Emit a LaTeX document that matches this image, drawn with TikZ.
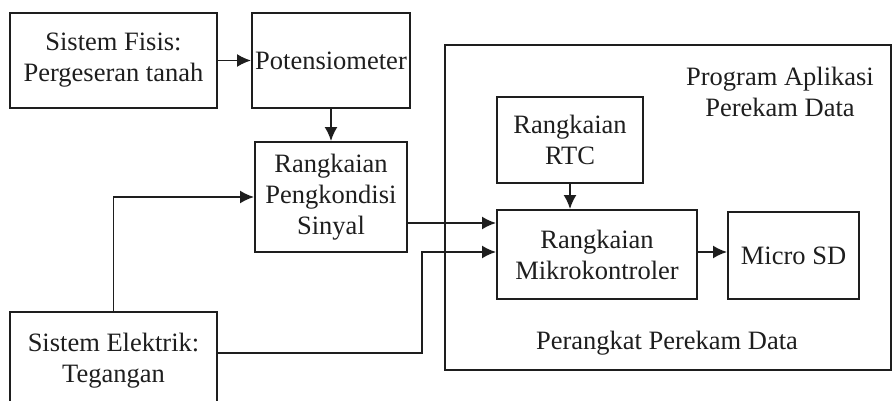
\documentclass[tikz,border=0pt]{standalone}
\usepackage{fontspec}
\setmainfont{Liberation Serif}
\usetikzlibrary{arrows.meta}
\definecolor{ink}{HTML}{1E1E1E}
\begin{document}
\begin{tikzpicture}[x=1pt,y=-1pt,
  every node/.style={font=\fontsize{26.5}{31}\selectfont, text=ink},
  blok/.style={draw=ink, line width=1.9pt, inner sep=0pt, align=center},
  arr/.style={draw=ink, line width=1.9pt, -{Latex[length=14pt,width=13pt]}},
  wire/.style={draw=ink, line width=1.9pt}]
  \useasboundingbox (0,0) rectangle (892,401);
  \clip (0,0) rectangle (892,401);

  % outer frame of the recording device
  \node[blok, minimum width=446pt, minimum height=325pt] (alat) at (668,207.5) {};
  \node[align=center] (prog) at (780,92) {Program Aplikasi\\Perekam Data};
  \node (perangkat) at (667,343) {Perangkat Perekam Data};

  % blocks
  \node[blok, minimum width=207pt, minimum height=95pt] (fisis) at (113.5,60.5) {Sistem Fisis:\\Pergeseran tanah};
  \node[blok, minimum width=158pt, minimum height=95pt] (poten) at (331,60.5) {Potensiometer};
  \node[blok, minimum width=152pt, minimum height=110pt] (kond) at (331,197) {Rangkaian\\Pengkondisi\\Sinyal};
  \node[blok, minimum width=207pt, minimum height=98pt] (elek) at (113.5,361) {Sistem Elektrik:\\Tegangan};
  \node[blok, minimum width=146pt, minimum height=86pt] (rtc) at (570,140) {Rangkaian\\RTC};
  \node[blok, minimum width=200pt, minimum height=89pt] (mikro) at (597,254.5) {Rangkaian\\Mikrokontroler};
  \node[blok, minimum width=131pt, minimum height=87pt] (sd) at (793.5,255.5) {Micro SD};

  % connections
  \draw[arr] (fisis.east) -- (poten.west);
  \draw[arr] (poten.south) -- (kond.north);
  \draw[arr] (elek.north) |- (kond.west);
  \draw[arr] (kond.east |- 0,223) -- (mikro.west |- 0,223);
  \coordinate (belok) at (422,353);
  \draw[arr] (elek.east |- belok) -- (belok) |- (mikro.west |- 0,252);
  \draw[arr] (rtc.south) -- (rtc.south |- mikro.north);
  \draw[arr] (mikro.east |- 0,252) -- (sd.west |- 0,252);
\end{tikzpicture}
\end{document}
